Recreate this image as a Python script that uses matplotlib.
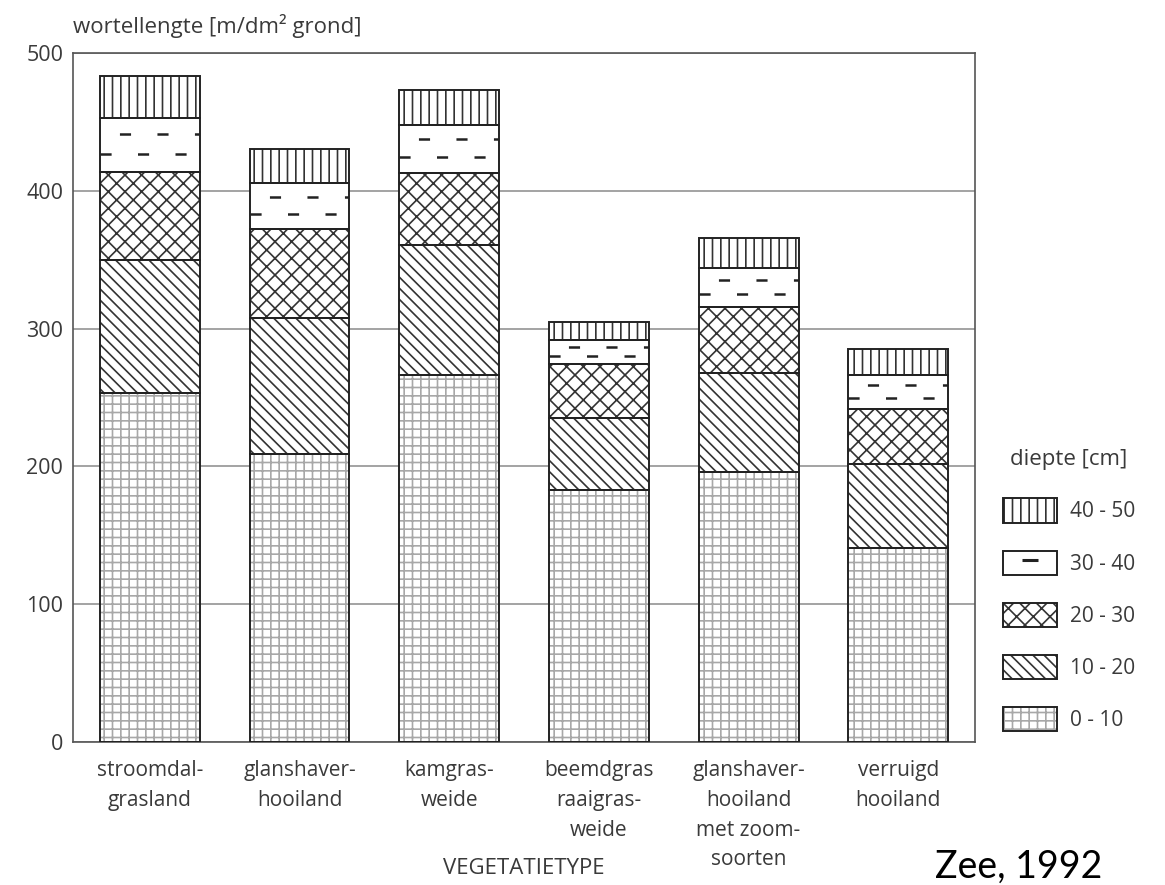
import matplotlib
matplotlib.use("Agg")
import matplotlib.pyplot as plt
from matplotlib.patches import Patch
from matplotlib.lines import Line2D
import numpy as np

# --- data (wortellengte per diepte-laag) ----------------------------------
categories = [
    "stroomdal-\ngrasland",
    "glanshaver-\nhooiland",
    "kamgras-\nweide",
    "beemdgras\nraaigras-\nweide",
    "glanshaver-\nhooiland\nmet zoom-\nsoorten",
    "verruigd\nhooiland",
]
depth_labels = ["0 - 10", "10 - 20", "20 - 30", "30 - 40", "40 - 50"]
d0_10 = [253, 209, 266, 183, 196, 141]
d10_20 = [97, 99, 95, 52, 72, 61]
d20_30 = [64, 64, 52, 39, 48, 40]
d30_40 = [39, 34, 35, 18, 28, 24]
d40_50 = [30, 24, 25, 13, 22, 19]
y_ticks = [0, 100, 200, 300, 400, 500]

TEXT = "#3a3a3a"
EDGE = "#222222"

plt.rcParams["font.family"] = ["Open Sans", "DejaVu Sans"]
plt.rcParams["hatch.linewidth"] = 1.2
plt.rcParams["lines.scale_dashes"] = False

fig = plt.figure(figsize=(11.65, 8.85), dpi=100)
ax = fig.add_axes([0.0627, 0.1616, 0.7743, 0.7785])

x = np.arange(len(categories))
width = 0.667
layers = [d0_10, d10_20, d20_30, d30_40, d40_50]
hatches = ["++", "\\\\\\", "xx", "", "||"]
hatch_cols = ["#a8a8a8", "#333333", "#333333", "#333333", "#333333"]

bottom = np.zeros(len(x))
outlines = []
for vals, h, hc in zip(layers, hatches, hatch_cols):
    ax.bar(x, vals, width, bottom=bottom, color="white", edgecolor=hc,
           hatch=h, linewidth=0, zorder=2)
    c = ax.bar(x, vals, width, bottom=bottom, fill=False, edgecolor=EDGE,
               linewidth=1.4, zorder=3)
    outlines.append(c)
    bottom += np.asarray(vals)

# 30-40 cm: rijen korte streepjes, geknipt op de balk
for rect in outlines[3]:
    x0, y0 = rect.get_x(), rect.get_y()
    w, h = rect.get_width(), rect.get_height()
    for frac, off in ((0.33, 0), (0.70, 13)):
        yy = y0 + h * frac
        ln, = ax.plot([x0, x0 + w], [yy, yy], color=EDGE, lw=1.8,
                      linestyle=(off, (8, 19)), zorder=3)
        ln.set_clip_path(rect)

ax.set_xlim(-0.513, len(categories) - 1 + 0.513)
ax.set_ylim(0, 500)
ax.set_yticks(y_ticks)
ax.set_xticks(x, categories)
for lbl in ax.get_xticklabels():
    lbl.set_linespacing(1.55)
ax.tick_params(axis="x", length=0, pad=13, labelsize=15, labelcolor=TEXT)
ax.tick_params(axis="y", length=0, pad=7, labelsize=15.5, labelcolor=TEXT)
ax.yaxis.grid(True, color="#8a8a8a", lw=1.1)
ax.set_axisbelow(True)
for s in ax.spines.values():
    s.set_color("#555555")
    s.set_linewidth(1.2)

ax.text(0.0, 1.029, "wortellengte [m/dm² grond]", transform=ax.transAxes,
        ha="left", va="baseline", fontsize=16, color=TEXT)
ax.set_xlabel("VEGETATIETYPE", fontsize=16, color=TEXT)
ax.xaxis.set_label_coords(0.5, -0.168)

# legenda (omgekeerde volgorde, 40-50 bovenaan)
handles = []
for h, hc in zip(hatches, hatch_cols):
    if h:
        handles.append((Patch(facecolor="white", edgecolor=hc, hatch=h, linewidth=0),
                        Patch(fill=False, edgecolor=EDGE, linewidth=1.4)))
    else:
        handles.append((Patch(facecolor="white", edgecolor=EDGE, linewidth=1.4),
                        Line2D([], [], marker="_", markersize=12, markeredgewidth=2.2,
                               color=EDGE, linestyle="none")))
leg = ax.legend(handles[::-1], depth_labels[::-1], title="diepte [cm]",
                loc="upper left", bbox_to_anchor=(1.01, 0.452), frameon=False,
                fontsize=15, title_fontsize=16, handlelength=2.6,
                handleheight=1.4, labelspacing=1.35, handletextpad=0.6)
for t in leg.get_texts():
    t.set_color(TEXT)
leg.get_title().set_color(TEXT)

fig.text(0.8026, 0.008, "Zee, 1992", fontsize=27, family=["Lato", "DejaVu Sans"],
         color="black", ha="left", va="baseline")

fig.savefig("out.png", dpi=100)
